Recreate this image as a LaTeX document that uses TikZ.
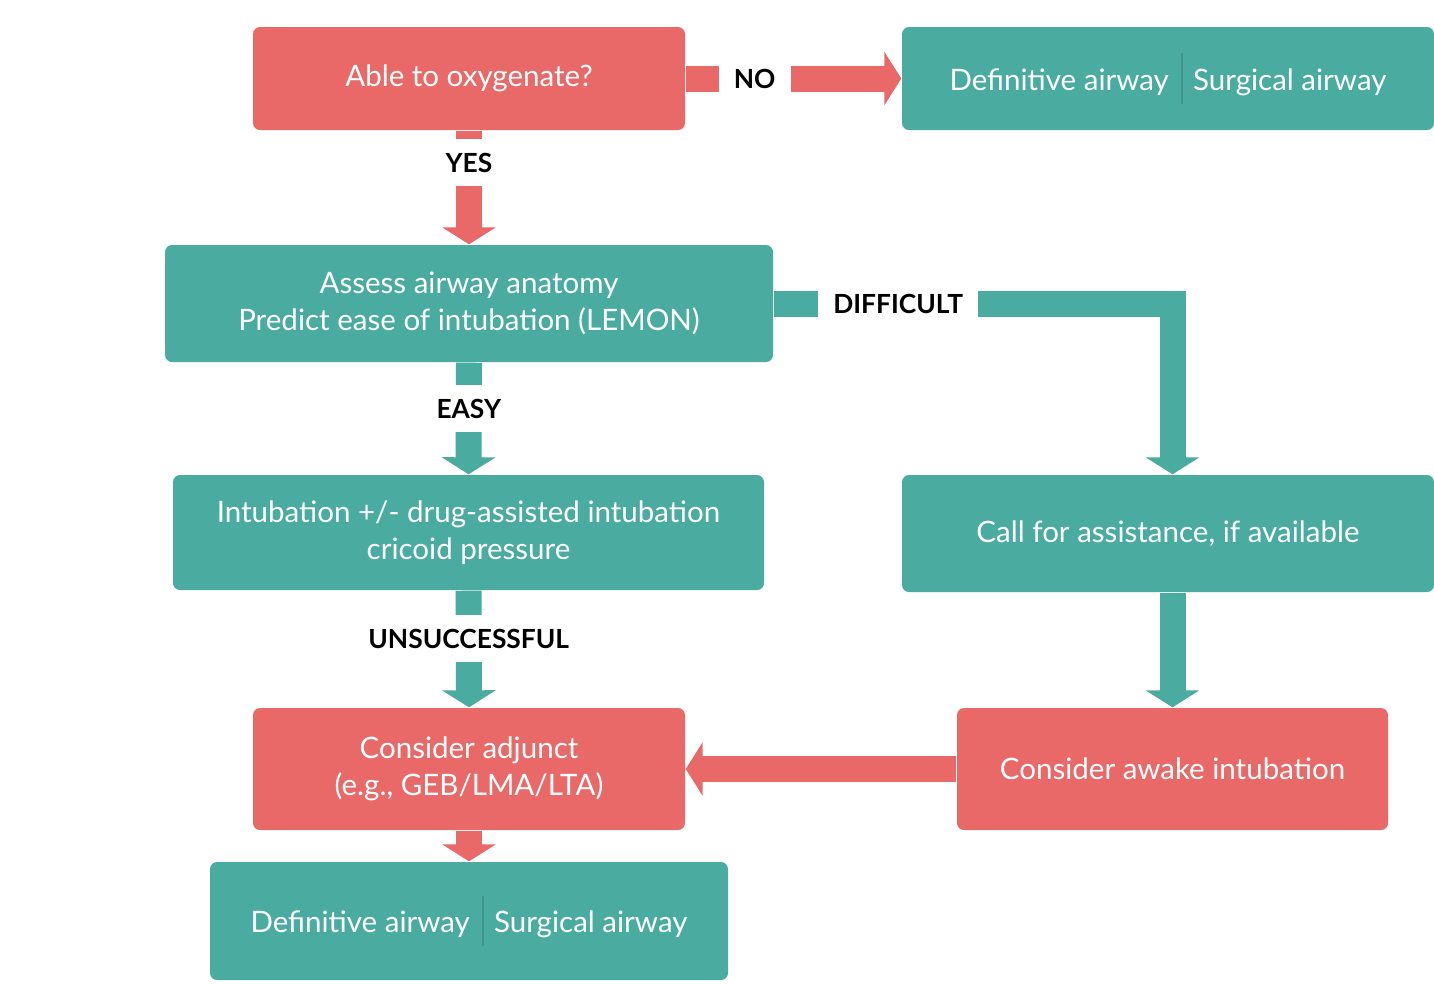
\documentclass[tikz,border=0pt]{standalone}
\usepackage{fontspec}
\setmainfont{Lato}
\usetikzlibrary{arrows.meta}
\definecolor{boxred}{HTML}{E96868}
\definecolor{boxteal}{HTML}{4AABA0}
\definecolor{divteal}{HTML}{3E958B}
\newcommand{\airwaypair}{Definitive airway\hspace{0.4em}{\color{divteal}\rule[-0.45em]{0.6pt}{1.7em}}\hspace{0.35em}Surgical airway}

\begin{document}
\begin{tikzpicture}[
  box/.style={rounded corners=2pt,text=white,align=center,font=\fontsize{8.4}{10.5}\selectfont,inner sep=0pt},
  redbox/.style={box,fill=boxred},
  tealbox/.style={box,fill=boxteal},
  redarrow/.style={color=boxred,line width=0.26cm,-{Triangle[width=0.53cm,length=0.17cm]}},
  tealarrow/.style={color=boxteal,line width=0.26cm,-{Triangle[width=0.53cm,length=0.17cm]}},
  lbl/.style={fill=white,text=black,font=\bfseries\fontsize{7.5}{9}\selectfont,inner xsep=0.15cm,inner ysep=0.14cm}]
\useasboundingbox[fill=white] (0,0) rectangle (14.34,-9.83);
\node[redbox,minimum width=4.32cm,minimum height=1.03cm] (able) at (4.69,-0.785) {Able to oxygenate?};
\node[tealbox,minimum width=5.32cm,minimum height=1.03cm] (deftop) at (11.68,-0.785) {\airwaypair};
\node[tealbox,minimum width=6.08cm,minimum height=1.17cm] (assess) at (4.69,-3.035) {Assess airway anatomy\\Predict ease of intubation (LEMON)};
\node[tealbox,minimum width=5.91cm,minimum height=1.15cm] (intub) at (4.685,-5.325) {Intubation +/- drug-assisted intubation\\cricoid pressure};
\node[tealbox,minimum width=5.32cm,minimum height=1.17cm] (call) at (11.68,-5.335) {Call for assistance, if available};
\node[redbox,minimum width=4.32cm,minimum height=1.22cm] (adjunct) at (4.69,-7.69) {Consider adjunct\\(e.g., GEB/LMA/LTA)};
\node[redbox,minimum width=4.31cm,minimum height=1.22cm] (awake) at (11.725,-7.69) {Consider awake intubation};
\node[tealbox,minimum width=5.18cm,minimum height=1.18cm] (defbot) at (4.69,-9.21) {\airwaypair};
\draw[redarrow] (able.east) -- node[lbl,pos=0.32] (no) {NO} (deftop.west);
\draw[redarrow] (able.south) -- node[lbl,pos=0.28] (yes) {YES} (assess.north);
\draw[tealarrow] (assess.east) -| node[lbl,pos=0.156] (difficult) {DIFFICULT} (awake.north |- call.north);
\draw[tealarrow] (assess.south) -- node[lbl,pos=0.41] (easy) {EASY} (intub.north);
\draw[tealarrow] (intub.south) -- node[lbl,pos=0.41] (unsucc) {UNSUCCESSFUL} (adjunct.north);
\draw[tealarrow] (awake.north |- call.south) -- (awake.north);
\draw[redarrow] (awake.west) -- (adjunct.east);
\draw[redarrow] (adjunct.south) -- (defbot.north);
\end{tikzpicture}
\end{document}
